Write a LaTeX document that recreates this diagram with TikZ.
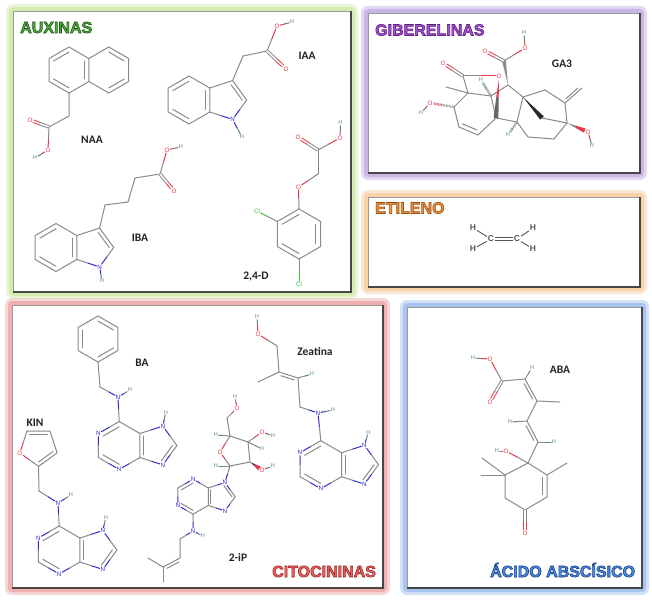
\documentclass[tikz,border=0pt]{standalone}
\usepackage{fontspec}
\setmainfont{Liberation Sans}
\newfontfamily\namefam{Carlito}
\usetikzlibrary{calc}
\definecolor{bc}{RGB}{138,138,138}
\definecolor{oc}{RGB}{225,60,75}
\definecolor{nc}{RGB}{45,45,205}
\definecolor{hc}{RGB}{95,135,135}
\definecolor{clc}{RGB}{60,195,60}
\definecolor{txc}{RGB}{35,35,35}
\definecolor{etc}{RGB}{85,85,85}
\definecolor{gGreen}{RGB}{213,236,176}
\definecolor{gPurple}{RGB}{200,182,228}
\definecolor{gOrange}{RGB}{248,210,168}
\definecolor{gRed}{RGB}{238,176,176}
\definecolor{gBlue}{RGB}{168,196,238}
\definecolor{tGreen}{RGB}{78,172,58}
\definecolor{tPurple}{RGB}{170,80,215}
\definecolor{tOrange}{RGB}{240,145,60}
\definecolor{tRed}{RGB}{240,95,95}
\definecolor{tBlue}{RGB}{75,140,230}
\newcommand\atomfont{\fontsize{6.3}{6.3}\selectfont}
\newcommand\hfont{\fontsize{5.6}{5.6}\selectfont}
\newcommand\molfont{\namefam\bfseries\fontsize{11.5}{12}\selectfont}
\newcommand\ttlfont{\bfseries\fontsize{16}{18}\selectfont}
\newcommand\ethfont{\bfseries\fontsize{8.5}{9}\selectfont}
\tikzset{
  bond/.style={draw=bc, line width=1pt, line cap=round},
  dbl/.style={double=white, double distance=1.5pt, line cap=butt},
  hash/.style={line width=2.4pt, dash pattern=on 0.7pt off 0.8pt},
  atO/.style={inner sep=0.6pt, font=\atomfont, text=oc},
  atN/.style={inner sep=0.6pt, font=\atomfont, text=nc},
  atH/.style={inner sep=0.6pt, font=\hfont, text=hc},
  atCl/.style={inner sep=0.6pt, font=\atomfont, text=clc},
  mol/.style={font=\molfont, text=txc, inner sep=0},
  ttlst/.style={font=\ttlfont, anchor=base west, inner sep=0},
  eth/.style={font=\ethfont, text=etc, inner sep=0.8pt},
  ebond/.style={draw=etc, line width=0.9pt},
}
\newcommand\hbond[5][]{\draw[bond,#1,draw=#4] (#2) -- ($(#2)!.5!(#3)$);\draw[bond,#1,draw=#5] ($(#2)!.5!(#3)$) -- (#3);}
\newcommand\rinl[3]{\draw[bond] ($(#1)!.78!(#2)$) -- ($(#1)!.78!(#3)$);}
\newcommand\dbside[3]{\draw[bond] ($(#1)!.15!(#2)!#3!90:(#2)$) -- ($(#2)!.15!(#1)!#3!-90:(#1)$);}
\newcommand\wdg[6]{%
 \fill[#3] (#1) -- ($(#1)!.5!(#2)!#5!90:(#2)$) -- ($(#1)!.5!(#2)!#5!-90:(#2)$) -- cycle;
 \fill[#4] ($(#1)!.5!(#2)!#5!90:(#2)$) -- ($(#2)!#6!-90:(#1)$) -- ($(#2)!#6!90:(#1)$) -- ($(#1)!.5!(#2)!#5!-90:(#2)$) -- cycle;}
\newcommand\hashb[4]{\draw[hash,draw=#3] (#1) -- ($(#1)!.5!(#2)$);\draw[hash,draw=#4] ($(#1)!.5!(#2)$) -- (#2);}
\newcommand\hpanel[5]{%
 \fill[#5, opacity=.5, rounded corners=7pt] ({#1-7},{#2-7}) rectangle ({#3+7},{#4+7});
 \fill[#5, rounded corners=4pt] ({#1-4},{#2-4}) rectangle ({#3+4},{#4+4});
 \fill[white] (#1,#2) rectangle (#3,#4);
 \draw[black!40, line width=.8pt] (#1,#4) -- (#1,#2) -- (#3,#2);
 \draw[black!72, line width=1.5pt] (#3,#2) -- (#3,#4) -- (#1,#4);}
% outlined title: fill colour #4, stroke colour (RGB 0-1 triple) #5
\newcommand\hlabel[6]{%
 \node[ttlst, text=#4] (#1) at (#2,#3) {\special{pdf:literal direct 2 Tr 0.6 w #5 RG}#6\special{pdf:literal direct 0 Tr}};}
\newcommand\purine[5]{% prefix cx cy L sign
 \pgfmathsetmacro\pa{0.866*#4}\pgfmathsetmacro\ph{0.5*#4*#5}\pgfmathsetmacro\pf{#4*#5}
 \pgfmathsetmacro\ppx{#2+1.554*#4}\pgfmathsetmacro\pr{0.8507*#4}
 \pgfmathsetmacro\pnx{\ppx+0.309*\pr}\pgfmathsetmacro\pny{0.951*\pr*#5}
 \coordinate (#1c6) at ({#2},{#3-(\pf)});
 \node[atN] (#1n1) at ({#2-\pa},{#3-(\ph)}) {N};
 \coordinate (#1c2) at ({#2-\pa},{#3+(\ph)});
 \node[atN] (#1n3) at ({#2},{#3+(\pf)}) {N};
 \coordinate (#1c4) at ({#2+\pa},{#3+(\ph)});
 \coordinate (#1c5) at ({#2+\pa},{#3-(\ph)});
 \node[atN] (#1n7) at ({\pnx},{#3-(\pny)}) {N};
 \coordinate (#1c8) at ({\ppx+\pr},{#3});
 \node[atN] (#1n9) at ({\pnx},{#3+(\pny)}) {N};
 \coordinate (#1ctr) at (#2,#3);
 \coordinate (#1pc) at ({\ppx},{#3});
 \hbond{#1c6}{#1n1}{bc}{nc}\hbond{#1n1}{#1c2}{nc}{bc}\hbond{#1c2}{#1n3}{bc}{nc}\hbond{#1n3}{#1c4}{nc}{bc}
 \draw[bond] (#1c4) -- (#1c5) -- (#1c6);
 \hbond{#1c5}{#1n7}{bc}{nc}\hbond{#1n7}{#1c8}{nc}{bc}\hbond{#1c8}{#1n9}{bc}{nc}\hbond{#1n9}{#1c4}{nc}{bc}
 \rinl{#1ctr}{#1c6}{#1n1}\rinl{#1ctr}{#1c2}{#1n3}\rinl{#1pc}{#1c5}{#1c4}\rinl{#1pc}{#1c8}{#1n9}}
\begin{document}
\begin{tikzpicture}[x=1pt,y=-1pt]
\useasboundingbox (0,0) rectangle (652,599);
\fill[white] (0,0) rectangle (652,599);
% panels
\hpanel{13}{11}{351}{292}{gGreen}
\hpanel{368}{13}{640}{173}{gPurple}
\hpanel{368}{197}{640}{287}{gOrange}
\hpanel{12}{305}{383}{588}{gRed}
\hpanel{407}{307}{642}{588}{gBlue}
% titles
\hlabel{tAux}{20}{33}{tGreen}{0.12 0.35 0.10}{AUXINAS}
\hlabel{tGib}{375}{35.5}{tPurple}{0.35 0.12 0.49}{GIBERELINAS}
\hlabel{tEti}{375}{213.5}{tOrange}{0.59 0.31 0.08}{ETILENO}
\hlabel{tCit}{272}{577}{tRed}{0.59 0.16 0.16}{CITOCININAS}
\hlabel{tAba}{490}{577}{tBlue}{0.10 0.24 0.50}{ÁCIDO ABSCÍSICO}

% ================= NAA
\coordinate (na1) at (69,47);\coordinate (na2) at (88.9,58.5);\coordinate (na3) at (88.9,81.5);
\coordinate (na4) at (69,93);\coordinate (na5) at (49.1,81.5);\coordinate (na6) at (49.1,58.5);
\coordinate (nb1) at (108.8,47);\coordinate (nb2) at (128.7,58.5);\coordinate (nb3) at (128.7,81.5);\coordinate (nb4) at (108.8,93);
\coordinate (naA) at (69,70);\coordinate (naB) at (108.8,70);
\draw[bond] (na1) -- (na2) -- (na3) -- (na4) -- (na5) -- (na6) -- cycle;
\draw[bond] (na2) -- (nb1) -- (nb2) -- (nb3) -- (nb4) -- (na3);
\rinl{naA}{na6}{na1}\rinl{naA}{na4}{na5}\rinl{naA}{na2}{na3}\rinl{naB}{nb1}{nb2}\rinl{naB}{nb3}{nb4}
\coordinate (nac1) at (69,116);\coordinate (nac2) at (49,127);
\node[atO] (naO1) at (30,120) {O};\node[atO] (naO2) at (48,150) {O};\node[atH] (naH) at (35,158) {H};
\draw[bond] (na4) -- (nac1) -- (nac2);
\hbond[dbl]{nac2}{naO1}{bc}{oc}\hbond{nac2}{naO2}{bc}{oc}\hbond{naO2}{naH}{oc}{hc}
\node[mol] (naaL) at (92,140) {NAA};

% ================= IAA
\coordinate (i1) at (189,76);\coordinate (i2) at (209.8,88);\coordinate (i3) at (209.8,112);
\coordinate (i4) at (189,124);\coordinate (i5) at (168.2,112);\coordinate (i6) at (168.2,88);
\coordinate (iaB) at (189,100);\coordinate (iaP) at (226.3,100);
\coordinate (ia3) at (232.6,80.6);\coordinate (ia2) at (246.7,100);\node[atN] (iaN) at (232.6,119.4) {N};
\draw[bond] (i1) -- (i2) -- (i3) -- (i4) -- (i5) -- (i6) -- cycle;
\draw[bond] (i2) -- (ia3) -- (ia2);
\hbond{ia2}{iaN}{bc}{nc}\hbond{i3}{iaN}{bc}{nc}
\rinl{iaB}{i6}{i1}\rinl{iaB}{i4}{i5}\rinl{iaB}{i2}{i3}\rinl{iaP}{ia3}{ia2}
\node[atH] (iaH) at (242,137) {H};\hbond{iaN}{iaH}{nc}{hc}
\coordinate (iac1) at (243,56);\coordinate (iac2) at (267,51);
\node[atO] (iaO1) at (277,26) {O};\node[atH] (iaH2) at (292,22) {H};\node[atO] (iaO2) at (286,69) {O};
\draw[bond] (ia3) -- (iac1) -- (iac2);
\hbond{iac2}{iaO1}{bc}{oc}\hbond{iaO1}{iaH2}{oc}{hc}\hbond[dbl]{iac2}{iaO2}{bc}{oc}
\node[mol] (iaaL) at (307,56) {IAA};

% ================= IBA
\coordinate (j1) at (56,223.5);\coordinate (j2) at (76.8,235.5);\coordinate (j3) at (76.8,259.5);
\coordinate (j4) at (56,271.5);\coordinate (j5) at (35.2,259.5);\coordinate (j6) at (35.2,235.5);
\coordinate (ibB) at (56,247.5);\coordinate (ibP) at (93.3,247.5);
\coordinate (ib3) at (99.6,228.1);\coordinate (ib2) at (113.7,247.5);\node[atN] (ibN) at (99.6,266.9) {N};
\draw[bond] (j1) -- (j2) -- (j3) -- (j4) -- (j5) -- (j6) -- cycle;
\draw[bond] (j2) -- (ib3) -- (ib2);
\hbond{ib2}{ibN}{bc}{nc}\hbond{j3}{ibN}{bc}{nc}
\rinl{ibB}{j6}{j1}\rinl{ibB}{j4}{j5}\rinl{ibB}{j2}{j3}\rinl{ibP}{ib3}{ib2}
\node[atH] (ibH) at (102,281) {H};\hbond{ibN}{ibH}{nc}{hc}
\coordinate (ibc1) at (105,205);\coordinate (ibc2) at (128,202);\coordinate (ibc3) at (135,178);\coordinate (ibc4) at (160,174);
\node[atO] (ibO1) at (167,150) {O};\node[atH] (ibH2) at (181,147) {H};\node[atO] (ibO2) at (174,191) {O};
\draw[bond] (ib3) -- (ibc1) -- (ibc2) -- (ibc3) -- (ibc4);
\hbond{ibc4}{ibO1}{bc}{oc}\hbond{ibO1}{ibH2}{oc}{hc}\hbond[dbl]{ibc4}{ibO2}{bc}{oc}
\node[mol] (ibaL) at (140,238) {IBA};

% ================= 2,4-D
\coordinate (k1) at (299,209);\coordinate (k2) at (320.7,221.5);\coordinate (k3) at (320.7,246.5);
\coordinate (k4) at (299,259);\coordinate (k5) at (277.3,246.5);\coordinate (k6) at (277.3,221.5);
\coordinate (ddA) at (299,234);
\draw[bond] (k1) -- (k2) -- (k3) -- (k4) -- (k5) -- (k6) -- cycle;
\rinl{ddA}{k6}{k1}\rinl{ddA}{k2}{k3}\rinl{ddA}{k4}{k5}
\node[atO] (ddO) at (298.5,187) {O};\coordinate (ddc1) at (318,174);\coordinate (ddc2) at (318,150);
\node[atO] (ddO2) at (298,137) {O};\node[atO] (ddO3) at (340,138) {O};\node[atH] (ddH) at (340.5,123) {H};
\node[atCl] (ddCl1) at (257,211) {Cl};\node[atCl] (ddCl2) at (299,284) {Cl};
\hbond{k1}{ddO}{bc}{oc}\hbond{ddO}{ddc1}{oc}{bc}\draw[bond] (ddc1) -- (ddc2);
\hbond[dbl]{ddc2}{ddO2}{bc}{oc}\hbond{ddc2}{ddO3}{bc}{oc}\hbond{ddO3}{ddH}{oc}{hc}
\hbond{k6}{ddCl1}{bc}{clc}\hbond{k4}{ddCl2}{bc}{clc}
\node[mol] (ddL) at (256,277) {2,4-D};

% ================= GA3
\coordinate (gC3) at (454,107);\coordinate (gC2) at (459,127);\coordinate (gC1) at (478,135);
\coordinate (gC10) at (496,118);\coordinate (gC5) at (491,96);\coordinate (gC4) at (468,93);
\coordinate (gC18) at (446,87);\coordinate (gC19) at (463,76);\coordinate (gAc) at (474.3,112.7);
\coordinate (gC6) at (508,85);\coordinate (gC7) at (504,61);\coordinate (gC8) at (523,97);
\coordinate (gC9) at (517,122);\coordinate (gC11) at (528,137);\coordinate (gC12) at (554,139);
\coordinate (gC13) at (567,123);\coordinate (gC14) at (542,118);\coordinate (gC15) at (545,90);
\coordinate (gC16) at (565,103);\coordinate (gC17) at (582,88);
\node[atO] (gO19) at (443,63) {O};\node[atO] (gOl) at (499,76) {O};
\node[atO] (gO7d) at (485,51) {O};\node[atO] (gO7) at (525,48) {O};\node[atH] (gH7) at (524,33) {H};
\node[atO] (gO3) at (430,103) {O};\node[atH] (gH3) at (421,113) {H};
\node[atH] (gH5) at (481,80) {H};\node[atH] (gH9) at (508,135) {H};
\node[atO] (gO13) at (588,132) {O};\node[atH] (gH13) at (592,146) {H};
\draw[bond] (gC4) -- (gC3) -- (gC2) -- (gC1) -- (gC10);
\draw[bond] (gC4) -- (gC5) -- (gC10);
\draw[bond] (gC4) -- (gC18);\draw[bond] (gC4) -- (gC19);
\hbond[dbl]{gC19}{gO19}{bc}{oc}\hbond{gC19}{gOl}{bc}{oc}
\rinl{gAc}{gC1}{gC2}
\draw[bond] (gC5) -- (gC6) -- (gC8) -- (gC9) -- (gC10);
\draw[bond] (gC9) -- (gC11) -- (gC12) -- (gC13) -- (gC14);
\draw[bond] (gC8) -- (gC15) -- (gC16) -- (gC13);
\draw[bond] (gC16) -- (gC17);\dbside{gC16}{gC17}{2.6pt}
\wdg{gOl}{gC10}{oc}{black!60}{1.2pt}{2.4pt}
\wdg{gC8}{gC14}{black!85}{black!85}{1.2pt}{2.4pt}
\wdg{gC6}{gC7}{bc}{bc}{0.9pt}{1.9pt}
\coordinate (gO13e) at ($(gO13)!3.5pt!(gC13)$);
\wdg{gC13}{gO13e}{bc}{oc}{1.1pt}{2.2pt}
\hbond{gO13}{gH13}{oc}{hc}
\hbond[dbl]{gC7}{gO7d}{bc}{oc}\hbond{gC7}{gO7}{bc}{oc}\hbond{gO7}{gH7}{oc}{hc}
\hashb{gC3}{gO3}{bc}{oc}\hbond{gO3}{gH3}{oc}{hc}
\hashb{gC5}{gH5}{bc}{hc}\hashb{gC9}{gH9}{bc}{hc}
\node[mol] (gaL) at (562,64) {GA3};

% ================= Etileno
\node[eth] (etH1) at (473,228) {H};\node[eth] (etC1) at (491,239) {C};\node[eth] (etC2) at (517,239) {C};
\node[eth] (etH2) at (533,228) {H};\node[eth] (etH3) at (473,249) {H};\node[eth] (etH4) at (533,249) {H};
\draw[ebond] (etH1) -- (etC1);\draw[ebond] (etH3) -- (etC1);
\draw[ebond, double=white, double distance=1.4pt] (etC1) -- (etC2);
\draw[ebond] (etC2) -- (etH2);\draw[ebond] (etC2) -- (etH4);

% ================= BA
\coordinate (ba1) at (98,316);\coordinate (ba2) at (117.9,327.5);\coordinate (ba3) at (117.9,350.5);
\coordinate (ba4) at (98,362);\coordinate (ba5) at (78.1,350.5);\coordinate (ba6) at (78.1,327.5);\coordinate (baA) at (98,339);
\draw[bond] (ba1) -- (ba2) -- (ba3) -- (ba4) -- (ba5) -- (ba6) -- cycle;
\rinl{baA}{ba1}{ba2}\rinl{baA}{ba3}{ba4}\rinl{baA}{ba5}{ba6}
\coordinate (bac1) at (100,387);\node[atN] (baN) at (118,397) {N};\node[atH] (baH) at (130,390) {H};
\purine{bp}{119.2}{445.5}{24}{1}
\node[atH] (bpH) at ($(bpn7)+(3,-14)$) {H};\hbond{bpn7}{bpH}{nc}{hc}
\draw[bond] (ba4) -- (bac1);\hbond{bac1}{baN}{bc}{nc}\hbond{baN}{baH}{nc}{hc}\hbond{baN}{bpc6}{nc}{bc}
\node[mol] (baL) at (142,363) {BA};

% ================= KIN
\coordinate (kf1) at (27,431);\coordinate (kf2) at (50,431);\coordinate (kf3) at (57.1,452.9);
\coordinate (kf4) at (38.5,466.4);\node[atO] (kiO) at (19.9,452.9) {O};\coordinate (kfc) at (38.5,446.8);
\draw[bond] (kf1) -- (kf2) -- (kf3) -- (kf4);
\hbond{kf4}{kiO}{bc}{oc}\hbond{kiO}{kf1}{oc}{bc}
\rinl{kfc}{kf1}{kf2}\rinl{kfc}{kf3}{kf4}
\coordinate (kic1) at (39,491);\node[atN] (kiN) at (58,503) {N};\node[atH] (kiH) at (71,495) {H};
\purine{kp}{59.2}{550}{24}{1}
\node[atH] (kpH) at ($(kpn7)+(3,-13)$) {H};\hbond{kpn7}{kpH}{nc}{hc}
\draw[bond] (kf4) -- (kic1);\hbond{kic1}{kiN}{bc}{nc}\hbond{kiN}{kiH}{nc}{hc}\hbond{kiN}{kpc6}{nc}{bc}
\node[mol] (kiL) at (35,423) {KIN};

% ================= Zeatina
\node[atH] (zeH1) at (257,317) {H};\node[atO] (zeO) at (258,334) {O};
\coordinate (zec1) at (277,346);\coordinate (zec2) at (279,372);\coordinate (zeMe) at (258,382);
\coordinate (zec3) at (298,378);\node[atH] (zeH2) at (312,374) {H};\coordinate (zec4) at (300,407);
\node[atN] (zeN) at (318,413) {N};\node[atH] (zeH3) at (333,410) {H};
\hbond{zeH1}{zeO}{hc}{oc}\hbond{zeO}{zec1}{oc}{bc}
\draw[bond] (zec1) -- (zec2) -- (zeMe);\draw[bond] (zec2) -- (zec3) -- (zec4);
\dbside{zec2}{zec3}{-3pt}
\hbond{zec3}{zeH2}{bc}{hc}
\purine{zp}{320.8}{464.7}{24}{1}
\node[atH] (zpH) at ($(zpn7)+(4,-13)$) {H};\hbond{zpn7}{zpH}{nc}{hc}
\hbond{zec4}{zeN}{bc}{nc}\hbond{zeN}{zeH3}{nc}{hc}\hbond{zeN}{zpc6}{nc}{bc}
\node[mol] (zeL) at (315,351) {Zeatina};

% ================= 2-iP
\purine{ip}{193.1}{496.7}{17.5}{-1}
\node[atN] (ipN) at (193,531) {N};\node[atH] (ipH) at (203,536) {H};
\coordinate (ipc1) at (180,539);\coordinate (ipc2) at (180,558);\coordinate (ipc3) at (163,567);
\coordinate (ipMe1) at (148,558);\coordinate (ipMe2) at (163,582);
\hbond{ipc6}{ipN}{bc}{nc}\hbond{ipN}{ipH}{nc}{hc}\hbond{ipN}{ipc1}{nc}{bc}
\draw[bond] (ipc1) -- (ipc2) -- (ipc3) -- (ipMe1);\draw[bond] (ipc3) -- (ipMe2);
\dbside{ipc2}{ipc3}{3pt}
\node[atH] (suH5) at (235,397) {H};\node[atO] (suO5) at (237,408) {O};
\coordinate (suC5) at (227,418);\coordinate (suC4) at (230,436);\node[atH] (suH4) at (216,435) {H};
\node[atO] (suO4) at (220,452) {O};\coordinate (suC1) at (230,466);\node[atH] (suH1) at (216,466) {H};
\coordinate (suC2) at (250,462);\node[atO] (suO2) at (262,470) {O};\node[atH] (suH2o) at (273,466) {H};
\coordinate (suC3) at (248,442);\node[atO] (suO3) at (262,432) {O};\node[atH] (suH3o) at (273,436) {H};
\node[atH] (suH3) at (262,449) {H};
\hbond{suH5}{suO5}{hc}{oc}\hbond{suO5}{suC5}{oc}{bc}
\draw[bond] (suC5) -- (suC4) -- (suC3) -- (suC2) -- (suC1);
\hbond{suC4}{suO4}{bc}{oc}\hbond{suO4}{suC1}{oc}{bc}
\hbond{suC4}{suH4}{bc}{hc}\hbond{suC1}{suH1}{bc}{hc}
\hbond{suC3}{suO3}{bc}{oc}\hbond{suO3}{suH3o}{oc}{hc}\hbond{suC3}{suH3}{bc}{hc}
\coordinate (suO2e) at ($(suO2)!3pt!(suC2)$);
\wdg{suC2}{suO2e}{black!75}{oc}{1.1pt}{2.2pt}
\hbond{suO2}{suH2o}{oc}{hc}
\hbond{suC1}{ipn9}{bc}{nc}
\node[mol] (ipL) at (238,557) {2-iP};

% ================= ABA
\node[atH] (abH1) at (473,358) {H};\node[atO] (abO1) at (490,359) {O};
\coordinate (abC1) at (502,381);\node[atO] (abO2) at (490,402) {O};
\coordinate (abC2) at (525,379);\node[atH] (abH2) at (532,368) {H};
\coordinate (abC3) at (537,401);\coordinate (abMe) at (560,402);
\coordinate (abC4) at (527,421);\node[atH] (abH4) at (510,422) {H};
\coordinate (abC5) at (538,442);\node[atH] (abH5) at (554,442) {H};
\coordinate (abR1) at (528,463);\coordinate (abR2) at (547,475);\coordinate (abR3) at (547,497);
\coordinate (abR4) at (525,510);\coordinate (abR5) at (505,498);\coordinate (abR6) at (505,475);
\coordinate (abRc) at (526.2,486.3);
\node[atO] (abO3) at (506,451) {O};\node[atH] (abH3) at (497,451) {H};
\node[atO] (abO4) at (525,533) {O};
\coordinate (abM1) at (482,458);\coordinate (abM2) at (481,475);\coordinate (abM3) at (567,463);
\hbond{abH1}{abO1}{hc}{oc}\hbond{abO1}{abC1}{oc}{bc}\hbond[dbl]{abC1}{abO2}{bc}{oc}
\draw[bond] (abC1) -- (abC2) -- (abC3) -- (abC4) -- (abC5) -- (abR1);
\draw[bond] (abC3) -- (abMe);
\dbside{abC2}{abC3}{-3pt}\dbside{abC4}{abC5}{-3pt}
\hbond{abC2}{abH2}{bc}{hc}\hbond{abC4}{abH4}{bc}{hc}\hbond{abC5}{abH5}{bc}{hc}
\draw[bond] (abR1) -- (abR2) -- (abR3) -- (abR4) -- (abR5) -- (abR6) -- cycle;
\rinl{abRc}{abR2}{abR3}
\hbond{abR1}{abO3}{bc}{oc}\hbond{abO3}{abH3}{oc}{hc}
\hbond[dbl]{abR4}{abO4}{bc}{oc}
\draw[bond] (abR6) -- (abM1);\draw[bond] (abR6) -- (abM2);\draw[bond] (abR2) -- (abM3);
\node[mol] (abaL) at (560,370) {ABA};
\end{tikzpicture}
\end{document}
